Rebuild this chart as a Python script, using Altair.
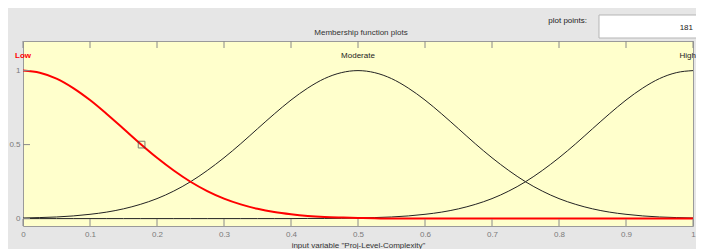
import altair as alt
import pandas as pd

# sampling grid of the input variable
x_grid = [0.0, 0.025, 0.05, 0.075, 0.1, 0.125, 0.15, 0.175, 0.2, 0.225,
          0.25, 0.275, 0.3, 0.325, 0.35, 0.375, 0.4, 0.425, 0.45, 0.475,
          0.5, 0.525, 0.55, 0.575, 0.6, 0.625, 0.65, 0.675, 0.7, 0.725,
          0.75, 0.775, 0.8, 0.825, 0.85, 0.875, 0.9, 0.925, 0.95, 0.975, 1.0]

low = [1.0, 0.986, 0.946, 0.882, 0.801, 0.707, 0.607, 0.506, 0.411, 0.325,
       0.249, 0.186, 0.135, 0.096, 0.066, 0.044, 0.029, 0.018, 0.011, 0.007,
       0.004, 0.002, 0.001, 0.001, 0.0, 0.0, 0.0, 0.0, 0.0, 0.0,
       0.0, 0.0, 0.0, 0.0, 0.0, 0.0, 0.0, 0.0, 0.0, 0.0, 0.0]

moderate = [0.004, 0.007, 0.011, 0.018, 0.029, 0.044, 0.066, 0.096, 0.135, 0.186,
            0.249, 0.325, 0.411, 0.506, 0.607, 0.707, 0.801, 0.882, 0.946, 0.986,
            1.0, 0.986, 0.946, 0.882, 0.801, 0.707, 0.607, 0.506, 0.411, 0.325,
            0.249, 0.186, 0.135, 0.096, 0.066, 0.044, 0.029, 0.018, 0.011, 0.007, 0.004]

high = [0.0, 0.0, 0.0, 0.0, 0.0, 0.0, 0.0, 0.0, 0.0, 0.0,
        0.0, 0.0, 0.0, 0.0, 0.0, 0.0, 0.0, 0.001, 0.001, 0.002,
        0.004, 0.007, 0.011, 0.018, 0.029, 0.044, 0.066, 0.096, 0.135, 0.186,
        0.249, 0.325, 0.411, 0.506, 0.607, 0.707, 0.801, 0.882, 0.946, 0.986, 1.0]

mf_names = ["Low", "Moderate", "High"]
mf_centers = [0.0, 0.5, 1.0]

x_ticks = [0, 0.1, 0.2, 0.3, 0.4, 0.5, 0.6, 0.7, 0.8, 0.9, 1]
y_ticks = [0, 0.5, 1]

marker_x = [0.177]
marker_y = [0.5]

W, H = 670, 185
FONT = "Liberation Sans"
FS = 8

rows = []
for name, ys in zip(mf_names, [low, moderate, high]):
    for xv, yv in zip(x_grid, ys):
        rows.append({"x": xv, "mu": yv, "mf": name})
curves = pd.DataFrame(rows)

xs = alt.Scale(domain=[0, 1], nice=False, zero=False)
ys_ = alt.Scale(domain=[-0.05, 1.2], nice=False, zero=False)

xaxis = alt.Axis(values=x_ticks, format="~g", ticks=False, domain=False, grid=False,
                 labelFontSize=FS, labelColor="#7a7a7a", labelFont=FONT, labelPadding=4,
                 labelFlush=False, labelOverlap=False,
                 title='input variable "Proj-Level-Complexity"', titleFont=FONT,
                 titleFontSize=FS, titleFontWeight="normal", titleColor="#333333",
                 titlePadding=3)
yaxis = alt.Axis(values=y_ticks, format="~g", ticks=False, domain=False, grid=False,
                 labelFontSize=FS, labelColor="#7a7a7a", labelFont=FONT, labelPadding=3,
                 labelFlush=False, labelOverlap=False, title=None)

black = alt.Chart(curves[curves.mf != "Low"]).mark_line(
    color="#222222", strokeWidth=1, interpolate="monotone"
).encode(
    x=alt.X("x:Q", scale=xs, axis=xaxis),
    y=alt.Y("mu:Q", scale=ys_, axis=yaxis),
    detail="mf:N",
)

red = alt.Chart(curves[curves.mf == "Low"]).mark_line(
    color="#ff0000", strokeWidth=2, interpolate="monotone"
).encode(x=alt.X("x:Q", scale=xs), y=alt.Y("mu:Q", scale=ys_))

marker = alt.Chart(pd.DataFrame({"x": marker_x, "mu": marker_y})).mark_point(
    shape="square", filled=False, color="#444444", size=45, strokeWidth=1
).encode(x=alt.X("x:Q", scale=xs), y=alt.Y("mu:Q", scale=ys_))

labels_df = pd.DataFrame({"x": mf_centers, "name": mf_names})
lab_low = alt.Chart(labels_df[labels_df.name == "Low"]).mark_text(
    font=FONT, fontSize=FS, baseline="middle", align="center",
    color="#ff0000", fontWeight="bold"
).encode(x=alt.X("x:Q", scale=xs), y=alt.value(15), text="name:N")
lab_mod = alt.Chart(labels_df[labels_df.name == "Moderate"]).mark_text(
    font=FONT, fontSize=FS, baseline="middle", align="center", color="#222222"
).encode(x=alt.X("x:Q", scale=xs), y=alt.value(15), text="name:N")
lab_high = alt.Chart(labels_df[labels_df.name == "High"]).mark_text(
    font=FONT, fontSize=FS, baseline="middle", align="right", color="#222222", dx=3
).encode(x=alt.X("x:Q", scale=xs), y=alt.value(15), text="name:N")

xt = pd.DataFrame({"x": x_ticks})
yt = pd.DataFrame({"mu": y_ticks})
tick_bottom = alt.Chart(xt).mark_rule(color="#8a8a8a").encode(
    x=alt.X("x:Q", scale=xs), y=alt.value(H), y2=alt.value(H - 7))
tick_top = alt.Chart(xt).mark_rule(color="#8a8a8a").encode(
    x=alt.X("x:Q", scale=xs), y=alt.value(0), y2=alt.value(7))
tick_left = alt.Chart(yt).mark_rule(color="#8a8a8a").encode(
    y=alt.Y("mu:Q", scale=ys_), x=alt.value(0), x2=alt.value(7))

one = pd.DataFrame({"t": ["Membership function plots"]})
title = alt.Chart(one).mark_text(font=FONT, fontSize=FS, color="#333333",
                                 align="center", baseline="middle").encode(
    x=alt.value(338), y=alt.value(-8), text="t:N")

pp = pd.DataFrame({"t": ["plot points:"]})
pp_label = alt.Chart(pp).mark_text(font=FONT, fontSize=FS, color="#222222",
                                   align="right", baseline="middle").encode(
    x=alt.value(564), y=alt.value(-20), text="t:N")
box = alt.Chart(pp).mark_rect(fill="#ffffff", stroke="#b5b5b5", strokeWidth=1).encode(
    x=alt.value(576), x2=alt.value(720), y=alt.value(-26), y2=alt.value(-3))
pv = pd.DataFrame({"t": ["181"]})
pp_value = alt.Chart(pv).mark_text(font=FONT, fontSize=FS, color="#222222",
                                   align="right", baseline="middle").encode(
    x=alt.value(670), y=alt.value(-13), text="t:N")

chart = alt.layer(
    black, red, marker, tick_bottom, tick_top, tick_left, lab_low, lab_mod, lab_high,
    title, box, pp_label, pp_value
).properties(
    width=W, height=H,
    autosize=alt.AutoSizeParams(type="none"),
    padding={"left": 15, "top": 33, "right": 3, "bottom": 23},
    background="#e6e6e6",
).configure_view(
    fill="#ffffcc", stroke="#9a9a9a", strokeWidth=1
)

chart.save("out.html", embed_options={"renderer": "svg", "actions": False})
